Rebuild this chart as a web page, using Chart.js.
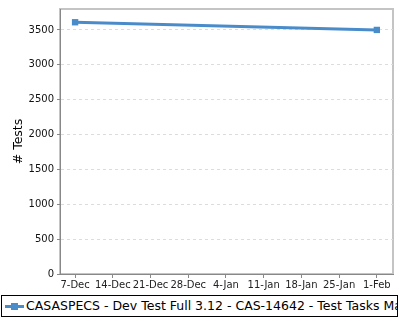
<!DOCTYPE html>
<html>
<head>
<meta charset="utf-8">
<script src="https://cdn.jsdelivr.net/npm/chart.js@4/dist/chart.umd.min.js"></script>
<style>
  body { margin: 0; background: #fff; width: 400px; height: 320px; overflow: hidden; position: relative; }
  #wrap { position: absolute; left: 0; top: 0; width: 400px; height: 294px; }
  #legend {
    position: absolute; left: 1px; top: 295px; width: 395px; height: 20px;
    border: 1px solid #000; overflow: hidden; white-space: nowrap;
    font-family: "DejaVu Sans", sans-serif; font-size: 12.5px; line-height: 20px; color: #000;
  }
  #legend .mark { display: inline-block; position: relative; width: 19px; height: 20px; vertical-align: top; margin-left: 3px; margin-right: 2px; }
  #legend .mark:before { content: ""; position: absolute; left: 0; top: 9px; width: 19px; height: 3px; background: #4a8cca; }
  #legend .mark:after { content: ""; position: absolute; left: 6px; top: 7px; width: 7px; height: 7px; background: #4a8cca; }
</style>
</head>
<body>
<div id="wrap"><canvas id="chart" width="400" height="294"></canvas></div>
<div id="legend"><span class="mark"></span><span id="legendText"></span></div>
<script>
// weeks from 7-Dec
var tickLabels = ["7-Dec", "14-Dec", "21-Dec", "28-Dec", "4-Jan", "11-Jan", "18-Jan", "25-Jan", "1-Feb"];
var days = [0, 56];
var tests = [3610, 3500];
var seriesName = "CASASPECS - Dev Test Full 3.12 - CAS-14642 - Test Tasks Ma";

document.getElementById("legendText").textContent = seriesName;

var points = days.map(function (d, i) { return { x: d, y: tests[i] }; });

var plotFrame = {
  id: 'plotFrame',
  beforeDraw: function (chart) {
    var a = chart.chartArea, c = chart.ctx;
    c.save();
    c.strokeStyle = '#c4c4c4';
    c.lineWidth = 2;
    c.strokeRect(a.left, a.top, a.right - a.left, a.bottom - a.top);
    c.restore();
  }
};

var ctx = document.getElementById("chart").getContext('2d');
var chart = new Chart(ctx, {
  type: 'line',
  data: {
    datasets: [{
      label: seriesName,
      data: points,
      borderColor: '#4a8cca',
      backgroundColor: '#4a8cca',
      borderWidth: 3,
      pointStyle: 'rect',
      pointRadius: 4.5,
      pointBorderWidth: 0,
      tension: 0
    }]
  },
  options: {
    responsive: false,
    animation: false,
    layout: { padding: { left: 0, right: 7, top: 6, bottom: 0 } },
    plugins: { legend: { display: false }, tooltip: { enabled: false } },
    scales: {
      x: {
        type: 'linear',
        min: -2.8,
        max: 59,
        afterBuildTicks: function (scale) {
          scale.ticks = tickLabels.map(function (t, i) { return { value: i * 7 }; });
        },
        ticks: {
          autoSkip: false,
          maxRotation: 0,
          padding: 1,
          color: '#222',
          font: { family: 'DejaVu Sans', size: 10 },
          callback: function (v) { return tickLabels[Math.round(v / 7)]; }
        },
        grid: { drawOnChartArea: false, drawTicks: true, tickLength: 4, color: '#888' },
        border: { color: '#888', width: 1 },
        afterFit: function (scale) { scale.height = 20; }
      },
      y: {
        min: 0,
        max: 3800,
        afterBuildTicks: function (scale) {
          var t = [];
          for (var v = 0; v <= 3500; v += 500) t.push({ value: v });
          scale.ticks = t;
        },
        ticks: {
          padding: 3,
          color: '#111',
          font: { family: 'DejaVu Sans', size: 10 },
          callback: function (v) { return String(v); }
        },
        grid: {
          color: '#dcdcdc',
          tickColor: '#888',
          tickLength: 3,
          lineWidth: 1
        },
        border: { color: '#888', width: 1, dash: [3, 3] },
        title: {
          display: true,
          text: '# Tests',
          color: '#000',
          font: { family: 'DejaVu Sans', size: 12.5 },
          padding: { top: 11, bottom: 0 }
        },
        afterFit: function (scale) { scale.width = 60; }
      }
    }
  },
  plugins: [plotFrame]
});
</script>
</body>
</html>
